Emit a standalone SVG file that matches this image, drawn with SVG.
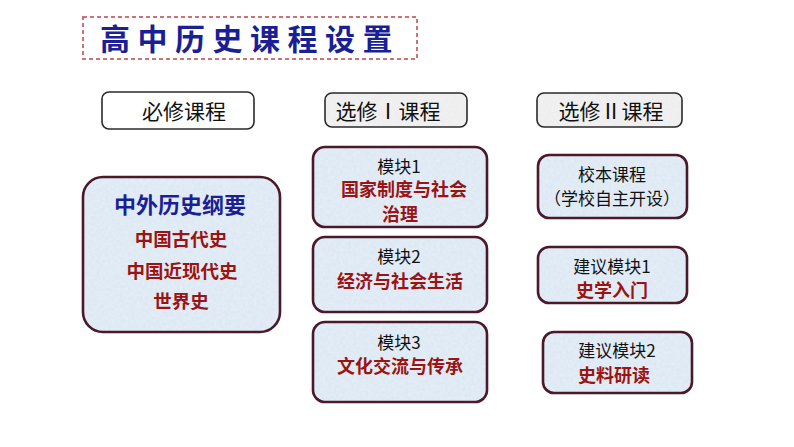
<svg xmlns="http://www.w3.org/2000/svg" width="794" height="447" viewBox="0 0 794 447">
<style>
text{font-family:"Noto Sans CJK SC","Liberation Sans",sans-serif;text-anchor:middle;dominant-baseline:central}
.hf{fill:#ececec;stroke:none}
.hs{fill:none;stroke:#2a2a2a;stroke-width:1.6}
.bf{fill:#d9e6f3;stroke:none}
.bs{fill:none;stroke:#4a1a28;stroke-width:2.6}
.h{font-size:21px;fill:#111}
.k{font-size:17px;fill:#111}
.r{font-size:18px;font-weight:bold;fill:#9a1414}
.b{font-weight:bold;fill:#1a1f95}
</style>
<defs>
<filter id="tex" x="0" y="0" width="100%" height="100%">
<feTurbulence type="fractalNoise" baseFrequency="0.35" numOctaves="2" seed="3" result="n"/>
<feColorMatrix in="n" type="matrix" values="0 0 0 0 1  0 0 0 0 1  0 0 0 0 1  0 0 0 0.35 0" result="w"/>
<feComposite in="w" in2="SourceGraphic" operator="in" result="m"/>
<feMerge><feMergeNode in="SourceGraphic"/><feMergeNode in="m"/></feMerge>
</filter>
</defs>
<rect width="794" height="447" fill="#ffffff"/>
<g id="title">
<rect x="83" y="17" width="334" height="42" fill="none" stroke="#d2707a" stroke-width="2" stroke-dasharray="4,3"/>
<text x="250" y="37" class="b" style="font-size:30px;letter-spacing:7.5px">高中历史课程设置</text>
</g>
<g id="h1">
<rect x="102" y="92" width="152" height="37" rx="7" fill="#ffffff" stroke="#2a2a2a" stroke-width="1.6"/>
<text x="184" y="110" class="h">必修课程</text>
</g>
<g id="h2">
<rect x="325" y="93" width="142" height="34" rx="7" class="hf" filter="url(#tex)"/>
<rect x="325" y="93" width="142" height="34" rx="7" class="hs"/>
<text x="388" y="110" class="h">选修Ⅰ课程</text>
</g>
<g id="h3">
<rect x="537" y="93" width="145" height="34" rx="7" class="hf" filter="url(#tex)"/>
<rect x="537" y="93" width="145" height="34" rx="7" class="hs"/>
<text x="611" y="110" class="h">选修Ⅱ课程</text>
</g>
<g id="main">
<rect x="83" y="177" width="197" height="155" rx="20" class="bf" filter="url(#tex)"/>
<rect x="83" y="177" width="197" height="155" rx="20" class="bs"/>
<text x="180" y="203" class="b" style="font-size:22px">中外历史纲要</text>
<text x="181" y="238" class="r" style="font-size:18.5px">中国古代史</text>
<text x="182" y="270" class="r" style="font-size:18.5px">中国近现代史</text>
<text x="181" y="300" class="r" style="font-size:18.5px">世界史</text>
</g>
<g id="m1">
<rect x="313" y="147" width="174" height="80" rx="12" class="bf" filter="url(#tex)"/>
<rect x="313" y="147" width="174" height="80" rx="12" class="bs"/>
<text x="399" y="165" class="k">模块1</text>
<text x="404" y="188" class="r">国家制度与社会</text>
<text x="400" y="213" class="r">治理</text>
</g>
<g id="m2">
<rect x="313" y="237" width="174" height="75" rx="12" class="bf" filter="url(#tex)"/>
<rect x="313" y="237" width="174" height="75" rx="12" class="bs"/>
<text x="399" y="255" class="k">模块2</text>
<text x="400" y="280" class="r">经济与社会生活</text>
</g>
<g id="m3">
<rect x="313" y="322" width="174" height="80" rx="12" class="bf" filter="url(#tex)"/>
<rect x="313" y="322" width="174" height="80" rx="12" class="bs"/>
<text x="399" y="341" class="k">模块3</text>
<text x="400" y="365" class="r">文化交流与传承</text>
</g>
<g id="s1">
<rect x="538" y="155" width="149" height="63" rx="11" class="bf" filter="url(#tex)"/>
<rect x="538" y="155" width="149" height="63" rx="11" class="bs"/>
<text x="612" y="173" class="k">校本课程</text>
<text x="612" y="197" class="k">（学校自主开设）</text>
</g>
<g id="s2">
<rect x="538" y="247" width="149" height="56" rx="11" class="bf" filter="url(#tex)"/>
<rect x="538" y="247" width="149" height="56" rx="11" class="bs"/>
<text x="612" y="265" class="k">建议模块1</text>
<text x="612" y="289" class="r">史学入门</text>
</g>
<g id="s3">
<rect x="543" y="332" width="149" height="61" rx="11" class="bf" filter="url(#tex)"/>
<rect x="543" y="332" width="149" height="61" rx="11" class="bs"/>
<text x="617" y="349" class="k">建议模块2</text>
<text x="614" y="374" class="r">史料研读</text>
</g>
</svg>
